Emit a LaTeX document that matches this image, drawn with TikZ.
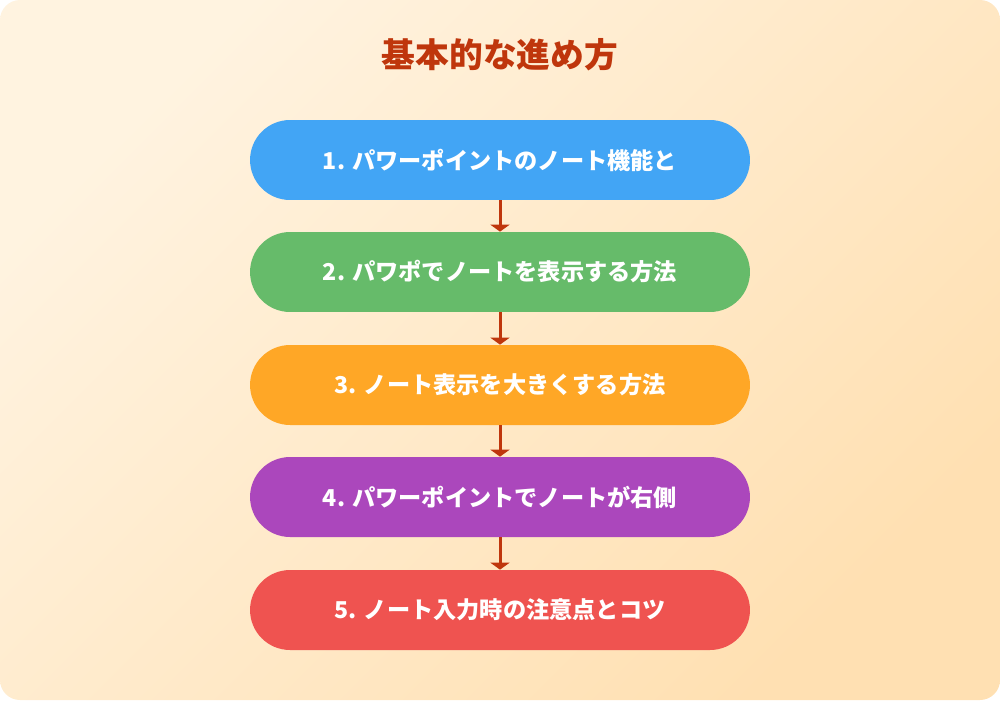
\documentclass[tikz,border=0pt]{standalone}
\usepackage{fontspec}
\setmainfont{Noto Sans CJK JP}
\usetikzlibrary{arrows.meta}

\definecolor{bgA}{HTML}{FFF3E0}
\definecolor{bgB}{HTML}{FFE0B2}
\definecolor{titlered}{HTML}{BF360C}
\definecolor{stepblue}{HTML}{42A5F5}
\definecolor{stepgreen}{HTML}{66BB6A}
\definecolor{steporange}{HTML}{FFA726}
\definecolor{steppurple}{HTML}{AB47BC}
\definecolor{stepred}{HTML}{EF5350}

\begin{document}
\begin{tikzpicture}[x=0.02cm,y=-0.02cm]

      \useasboundingbox (0,0) rectangle (1000,700);
      \shade[rounded corners=0.4cm,top color=bgA,bottom color=bgB,shading angle=45]
        (0,0) rectangle (1000,700);

      \node[text=titlered,font=\bfseries\fontsize{19.2}{23}\selectfont] (title) at (500,55) {基本的な進め方};

      \begin{scope}[every node/.style={rounded corners=0.8cm,minimum width=10cm,minimum height=1.6cm,
          text=white,font=\bfseries\fontsize{13.2}{16}\selectfont}]
        \node[fill=stepblue]   (1) at (500,160) {1. パワーポイントのノート機能と};
        \node[fill=stepgreen]  (2) at (500,272) {2. パワポでノートを表示する方法};
        \node[fill=steporange] (3) at (500,385) {3. ノート表示を大きくする方法};
        \node[fill=steppurple] (4) at (500,497) {4. パワーポイントでノートが右側};
        \node[fill=stepred]    (5) at (500,610) {5. ノート入力時の注意点とコツ};
      \end{scope}

      \begin{scope}[every edge/.style={draw,titlered,line width=0.06cm,
          -{Triangle[width=0.38cm,length=0.14cm]}}]
        \path (1) edge (2);
        \path (2) edge (3);
        \path (3) edge (4);
        \path (4) edge (5);
      \end{scope}

    \end{tikzpicture}
\end{document}
